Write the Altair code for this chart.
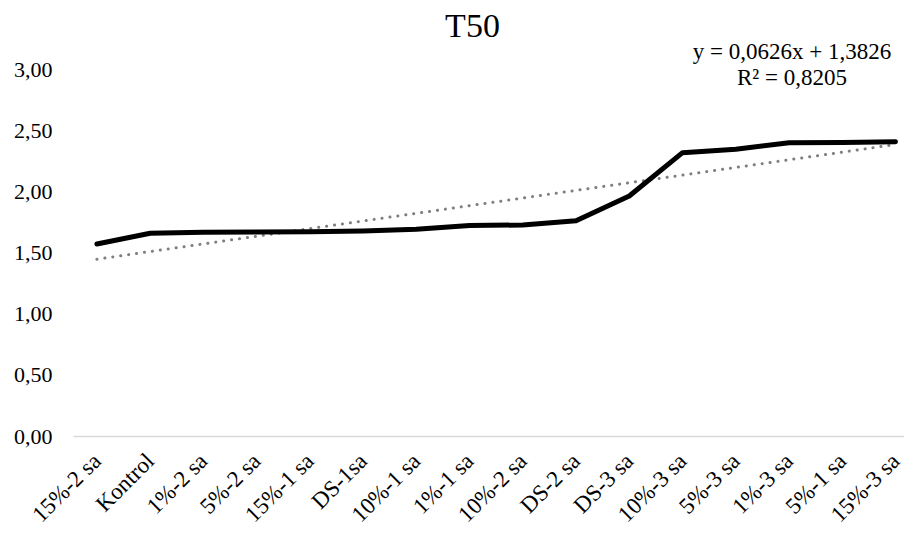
import json
import altair as alt
import pandas as pd

categories = ["15%-2 sa", "Kontrol", "1%-2 sa", "5%-2 sa", "15%-1 sa", "DS-1sa",
              "10%-1 sa", "1%-1 sa", "10%-2 sa", "DS-2 sa", "DS-3 sa", "10%-3 sa",
              "5%-3 sa", "1%-3 sa", "5%-1 sa", "15%-3 sa"]
t50 = [1.57, 1.657, 1.665, 1.668, 1.67, 1.676, 1.69, 1.72, 1.725, 1.76,
       1.962, 2.316, 2.344, 2.398, 2.40, 2.405]
y_ticks = [0, 0.5, 1.0, 1.5, 2.0, 2.5, 3.0]
trend_slope = 0.0626
trend_intercept = 1.3826
trend_r2 = 0.8205

df = pd.DataFrame({"idx": list(range(1, len(categories) + 1)),
                   "cat": categories, "T50": t50})

FONT = "Liberation Serif"
label_expr = json.dumps(categories) + "[datum.value - 1]"

x_enc = alt.X("idx:Q",
              scale=alt.Scale(domain=[0.551, 16.16], nice=False, zero=False),
              axis=alt.Axis(values=list(range(1, len(categories) + 1)),
                            labelExpr=label_expr, labelAngle=-45,
                            labelAlign="right", labelBaseline="middle",
                            labelFontSize=23, labelPadding=21,
                            labelColor="#000000",
                            ticks=False, tickSize=0, grid=False,
                            domain=True, domainColor="#d9d9d9", domainWidth=1.5,
                            labelOverlap=False, labelBound=False, title=None))
y_enc = alt.Y("T50:Q",
              scale=alt.Scale(domain=[0, 3], nice=False),
              axis=alt.Axis(values=y_ticks,
                            labelExpr="replace(format(datum.value, '.2f'), '.', ',')",
                            labelFontSize=22, labelPadding=21, labelColor="#000000",
                            ticks=False, tickSize=0, grid=False, domain=False,
                            title=None))

base = alt.Chart(df)

line = base.mark_line(color="#000000", strokeWidth=5, strokeCap="round",
                      strokeJoin="round").encode(x=x_enc, y=y_enc)

trend = base.transform_regression("idx", "T50", method="linear").mark_line(
    color="#7f7f7f", strokeWidth=3, strokeCap="round", strokeDash=[0.1, 7.9]
).encode(x=alt.X("idx:Q"), y=alt.Y("T50:Q"))

def fmt(v, d):
    return f"{v:.{d}f}".replace(".", ",")

eq_lines = [f"y = {fmt(trend_slope, 4)}x + {fmt(trend_intercept, 4)}",
            f"R² = {fmt(trend_r2, 4)}"]

eq = alt.Chart(pd.DataFrame({"t": [0]})).mark_text(
    font=FONT, fontSize=23, align="center", baseline="alphabetic",
    lineHeight=26, color="#000000"
).encode(x=alt.value(719), y=alt.value(-10), text=alt.value(eq_lines))

chart = alt.layer(trend, line, eq).properties(
    width=831, height=367,
    title=alt.TitleParams("T50", font=FONT, fontSize=34, fontWeight="normal",
                          color="#000000", anchor="middle", dx=-16, dy=7),
    autosize=alt.AutoSizeParams(type="none"),
    padding={"left": 65, "top": 61, "right": 0, "bottom": 91},
).configure(font=FONT).configure_axis(labelFont=FONT).configure_view(stroke=None)

chart.save("out.html", embed_options={"renderer": "svg", "actions": False})
